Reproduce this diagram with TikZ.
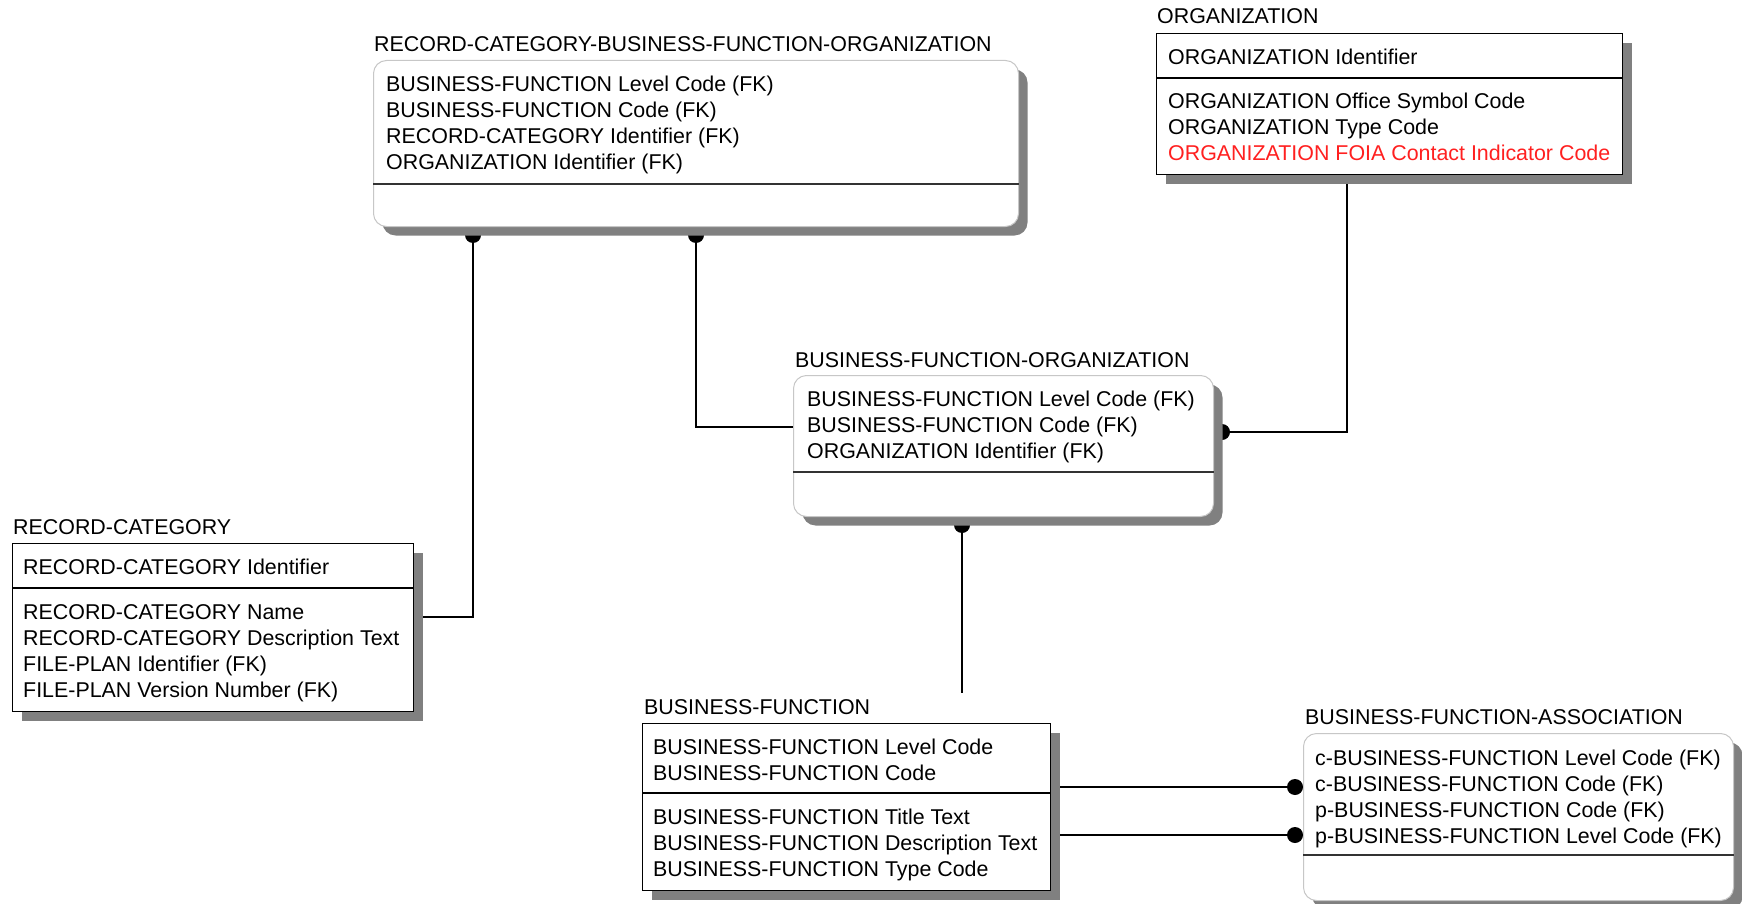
\documentclass[tikz,border=0pt]{standalone}
\usepackage{fontspec}
\setmainfont{Liberation Sans}
\usetikzlibrary{positioning, shadows, backgrounds}
\definecolor{foiaRed}{RGB}{255,32,32}

\begin{document}
\begin{tikzpicture}[
            x=1pt, y=-1pt,
            every node/.style={inner sep=0pt, font=\fontsize{21.4}{26}\selectfont},
            entity/.style={
                draw=black, line width=1.3pt, fill=white, anchor=north west,
                drop shadow={shadow xshift=9pt, shadow yshift=-9pt, fill=black!50, opacity=1}
            },
            depEntity/.style={entity, draw=black!22, line width=1pt, rounded corners=13pt},
            entTitle/.style={anchor=base west},
            % multi-line: base is the last line
            attrs/.style={anchor=base west, align=left},
            divider/.style={line width=1.3pt},
            link/.style={line width=1.2pt}
        ]
        \useasboundingbox (0,0) rectangle (1742,904);

        \node (rcbfoTitle) at (374, 52)[entTitle]{RECORD-CATEGORY-BUSINESS-FUNCTION-ORGANIZATION};
        \node (rcbfoBox) at (373, 60)[depEntity, minimum width=645, minimum height=166]{};
        \draw[divider, black!80] ([yshift=-124pt]rcbfoBox.north west) -- ([yshift=-124pt]rcbfoBox.north east);
        \node (rcbfoKeys) at (386, 170)[attrs]{BUSINESS-FUNCTION Level Code (FK)\\BUSINESS-FUNCTION Code (FK)\\RECORD-CATEGORY Identifier (FK)\\ORGANIZATION Identifier (FK)};

        \node (orgTitle) at (1157, 24)[entTitle]{ORGANIZATION};
        \node (orgBox) at (1156, 33)[entity, minimum width=466, minimum height=141]{};
        \draw[divider] ([yshift=-45pt]orgBox.north west) -- ([yshift=-45pt]orgBox.north east);
        \node (orgKey) at (1168, 65)[attrs]{ORGANIZATION Identifier};
        \node (orgAttrs) at (1168, 161)[attrs]{ORGANIZATION Office Symbol Code\\ORGANIZATION Type Code\\\textcolor{foiaRed}{ORGANIZATION FOIA Contact Indicator Code}};

        \node (bfoTitle) at (795, 367)[entTitle]{BUSINESS-FUNCTION-ORGANIZATION};
        \node (bfoBox) at (793, 375)[depEntity, minimum width=420, minimum height=141]{};
        \draw[divider, black!80] ([yshift=-97pt]bfoBox.north west) -- ([yshift=-97pt]bfoBox.north east);
        \node (bfoKeys) at (807, 458)[attrs]{BUSINESS-FUNCTION Level Code (FK)\\BUSINESS-FUNCTION Code (FK)\\ORGANIZATION Identifier (FK)};

        \node (rcTitle) at (13, 534)[entTitle]{RECORD-CATEGORY};
        \node (rcBox) at (12, 543)[entity, minimum width=401, minimum height=168]{};
        \draw[divider] ([yshift=-45pt]rcBox.north west) -- ([yshift=-45pt]rcBox.north east);
        \node (rcKey) at (23, 574)[attrs]{RECORD-CATEGORY Identifier};
        \node (rcAttrs) at (23, 697)[attrs]{RECORD-CATEGORY Name\\RECORD-CATEGORY Description Text\\FILE-PLAN Identifier (FK)\\FILE-PLAN Version Number (FK)};

        \node (bfTitle) at (644, 714)[entTitle]{BUSINESS-FUNCTION};
        \node (bfBox) at (642, 723)[entity, minimum width=408, minimum height=167]{};
        \draw[divider] ([yshift=-70pt]bfBox.north west) -- ([yshift=-70pt]bfBox.north east);
        \node (bfKeys) at (653, 780)[attrs]{BUSINESS-FUNCTION Level Code\\BUSINESS-FUNCTION Code};
        \node (bfAttrs) at (653, 876)[attrs]{BUSINESS-FUNCTION Title Text\\BUSINESS-FUNCTION Description Text\\BUSINESS-FUNCTION Type Code};

        \node (bfaTitle) at (1305, 724)[entTitle]{BUSINESS-FUNCTION-ASSOCIATION};
        \node (bfaBox) at (1303, 733)[depEntity, minimum width=430, minimum height=167]{};
        \draw[divider, black!80] ([yshift=-122pt]bfaBox.north west) -- ([yshift=-122pt]bfaBox.north east);
        \node (bfaKeys) at (1315, 843)[attrs]{c-BUSINESS-FUNCTION Level Code (FK)\\c-BUSINESS-FUNCTION Code (FK)\\p-BUSINESS-FUNCTION Code (FK)\\p-BUSINESS-FUNCTION Level Code (FK)};

        \begin{scope}[on background layer]
            \coordinate (rcBend) at (473, 617);
            \coordinate (rcDot) at (473, 235);
            \coordinate (bfoBendA) at (696, 427);
            \coordinate (bfoDotA) at (696, 235);
            \coordinate (bfoBendB) at (1347, 432);
            \coordinate (bfoDotB) at (1222, 432);
            \coordinate (bfFoot) at (962, 693);
            \coordinate (bfFootDot) at (962, 525);
            \coordinate (bfaLinkA) at (1295, 787);
            \coordinate (bfaLinkB) at (1295, 835);

            \draw[link] (rcbfoBox.south -| rcBend) -- (rcBend) -- (rcBend -| rcBox.east);
            \fill (rcDot) circle (8pt);
            \draw[link] (rcbfoBox.south -| bfoBendA) -- (bfoBendA) -- (bfoBendA -| bfoBox.west);
            \fill (bfoDotA) circle (8pt);
            \draw[link] (orgBox.south -| bfoBendB) -- (bfoBendB) -- (bfoBendB -| bfoBox.east);
            \fill (bfoDotB) circle (8pt);
            \draw[link] (bfoBox.south -| bfFoot) -- (bfFoot);
            \fill (bfFootDot) circle (8pt);
            \draw[link] (bfBox.east |- bfaLinkA) -- (bfaLinkA -| bfaBox.west);
            \fill (bfaLinkA) circle (8pt);
            \draw[link] (bfBox.east |- bfaLinkB) -- (bfaLinkB -| bfaBox.west);
            \fill (bfaLinkB) circle (8pt);
        \end{scope}
    \end{tikzpicture}
\end{document}
